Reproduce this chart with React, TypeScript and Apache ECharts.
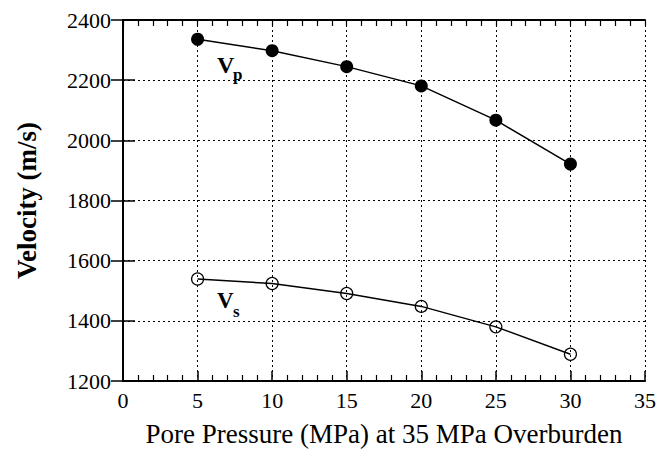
import React, { useEffect, useRef } from "react";
import * as echarts from "echarts";

const porePressure = [5, 10, 15, 20, 25, 30];
const vpValues = [2336, 2298, 2245, 2181, 2067, 1921];
const vsValues = [1539, 1524, 1491, 1448, 1380, 1289];
const xTitle = "Pore Pressure (MPa) at 35 MPa Overburden";
const yTitle = "Velocity (m/s)";

const FONT = "Liberation Serif";

export default function App() {
  const ref = useRef<HTMLDivElement>(null);
  useEffect(() => {
    document.body.style.margin = "0";
    if (!ref.current) return;
    const chart = echarts.init(ref.current, null, { renderer: "svg" });
    const gridLine = { show: true, lineStyle: { color: "#000", width: 1, type: [2, 3] as any } };
    const axisLine = { show: true, lineStyle: { color: "#000", width: 2 } };
    chart.setOption({
      animation: false,
      backgroundColor: "#fff",
      grid: { left: 123, right: 13, top: 20, bottom: 69, containLabel: false },
      xAxis: [
        {
          type: "value", min: 0, max: 35, interval: 5, position: "bottom", axisLine,
          axisTick: { show: true, inside: true, length: 10, lineStyle: { color: "#000", width: 1.5 } },
          minorTick: { show: true, splitNumber: 5, length: 6, lineStyle: { color: "#000", width: 1.2 } },
          splitLine: gridLine,
          axisLabel: { color: "#000", fontFamily: FONT, fontSize: 22, margin: 8, formatter: (v: number) => String(v) },
          name: xTitle, nameLocation: "middle", nameGap: 39,
          nameTextStyle: { color: "#000", fontFamily: FONT, fontSize: 27 },
        },
        {
          type: "value", min: 0, max: 35, interval: 5, position: "top", axisLine,
          axisTick: { show: true, inside: true, length: 6, lineStyle: { color: "#000", width: 1.2 } },
          minorTick: { show: true, splitNumber: 5, length: 6, lineStyle: { color: "#000", width: 1.2 } },
          splitLine: { show: false }, axisLabel: { show: false },
        },
      ],
      yAxis: [
        {
          type: "value", min: 1200, max: 2400, interval: 200, position: "left", axisLine,
          axisTick: { show: true, inside: true, length: 12, lineStyle: { color: "#000", width: 1.5 } },
          splitLine: gridLine,
          axisLabel: { color: "#000", fontFamily: FONT, fontSize: 22, margin: 12, formatter: (v: number) => String(v) },
          name: yTitle, nameLocation: "middle", nameGap: 83, nameRotate: 90,
          nameTextStyle: { color: "#000", fontFamily: FONT, fontSize: 27, fontWeight: "bold" },
        },
        {
          type: "value", min: 1200, max: 2400, interval: 200, position: "right", axisLine,
          axisTick: { show: true, inside: true, length: 12, lineStyle: { color: "#000", width: 1.5 } },
          splitLine: { show: false }, axisLabel: { show: false },
        },
      ],
      series: [
        {
          name: "Vp", type: "line", data: porePressure.map((x, i) => [x, vpValues[i]]),
          symbol: "circle", symbolSize: 13, lineStyle: { color: "#000", width: 1.5 }, itemStyle: { color: "#000" }, z: 3,
        },
        {
          name: "Vs", type: "line", data: porePressure.map((x, i) => [x, vsValues[i]]),
          symbol: "circle", symbolSize: 12, lineStyle: { color: "#000", width: 1.5 },
          itemStyle: { color: "rgba(255,255,255,0)", borderColor: "#000", borderWidth: 1.2 }, z: 3,
        },
      ],
      graphic: [
        { type: "text", x: 217, y: 65, style: { text: "V", fontFamily: FONT, fontSize: 24, fontWeight: "bold", fill: "#000", verticalAlign: "middle" } },
        { type: "text", x: 233, y: 74, style: { text: "p", fontFamily: FONT, fontSize: 17, fontWeight: "bold", fill: "#000", verticalAlign: "middle" } },
        { type: "text", x: 217, y: 300, style: { text: "V", fontFamily: FONT, fontSize: 23, fontWeight: "bold", fill: "#000", verticalAlign: "middle" } },
        { type: "text", x: 233, y: 311, style: { text: "s", fontFamily: FONT, fontSize: 17, fontWeight: "bold", fill: "#000", verticalAlign: "middle" } },
      ],
    });
    return () => chart.dispose();
  }, []);
  return <div ref={ref} style={{ width: 659, height: 452 }} />;
}
